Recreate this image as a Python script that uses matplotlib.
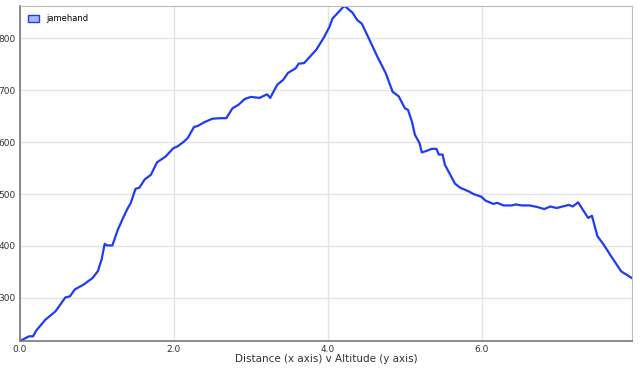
import matplotlib
matplotlib.use("Agg")
import matplotlib.pyplot as plt
from matplotlib.patches import Patch

distance = [0.0, 0.116, 0.17, 0.21, 0.33, 0.46, 0.59, 0.65, 0.71, 0.83, 0.94, 1.01, 1.06, 1.10, 1.13,
            1.20, 1.27, 1.33, 1.39, 1.44, 1.50, 1.55, 1.62, 1.70, 1.78, 1.89, 1.99, 2.05, 2.13, 2.18,
            2.26, 2.31, 2.39, 2.50, 2.60, 2.68, 2.76, 2.84, 2.92, 3.00, 3.11, 3.21, 3.25, 3.34, 3.42,
            3.48, 3.58, 3.62, 3.69, 3.77, 3.85, 3.95, 4.02, 4.06, 4.13, 4.21, 4.25, 4.32, 4.38, 4.44,
            4.53, 4.64, 4.75, 4.84, 4.92, 5.00, 5.04, 5.09, 5.13, 5.19, 5.22, 5.28, 5.35, 5.41, 5.44,
            5.49, 5.52, 5.59, 5.65, 5.72, 5.83, 5.89, 5.99, 6.05, 6.15, 6.20, 6.28, 6.39, 6.44, 6.52,
            6.62, 6.72, 6.81, 6.89, 6.97, 7.05, 7.13, 7.18, 7.25, 7.31, 7.38, 7.43, 7.50, 7.58, 7.68,
            7.81, 7.95]
altitude = [217, 226, 226, 237, 258, 274, 301, 303, 316, 326, 338, 351, 374, 404, 401,
            401, 431, 451, 470, 483, 510, 512, 528, 537, 561, 572, 588, 592, 601, 608,
            629, 631, 638, 645, 646, 646, 665, 672, 683, 687, 685, 692, 685, 710, 720,
            733, 742, 751, 752, 765, 778, 802, 822, 838, 849, 862, 858, 849, 835, 828,
            800, 765, 733, 697, 688, 665, 662, 640, 614, 598, 580, 583, 587, 587, 576,
            576, 556, 537, 520, 512, 505, 500, 495, 487, 481, 483, 478, 478, 480, 478,
            478, 475, 471, 476, 473, 476, 479, 476, 484, 470, 454, 458, 419, 403, 380,
            351, 338]
series_name = "jamehand"
x_ticks = [0, 2, 4, 6]
x_tick_labels = ["0.0", "2.0", "4.0", "6.0"]
y_ticks = [300, 400, 500, 600, 700, 800]

fig = plt.figure(figsize=(6.4, 3.71), dpi=100)
ax = fig.add_axes([20/640, 30/371, 612/640, 335/371])

line_color = "#1e3cf0"
ax.plot(distance, altitude, color=line_color, linewidth=1.6, solid_joinstyle="round")

ax.set_xlim(0, 7.95)
ax.set_ylim(217, 862)
ax.set_xticks(x_ticks)
ax.set_xticklabels(x_tick_labels)
ax.set_yticks(y_ticks)
ax.grid(True, color="#e4e4e4", linewidth=1)
ax.set_axisbelow(True)
ax.tick_params(length=0, labelsize=6.5, colors="#333333", pad=3)

for side in ["left", "bottom"]:
    ax.spines[side].set_color("#777777")
    ax.spines[side].set_linewidth(1.2)
for side in ["top", "right"]:
    ax.spines[side].set_color("#bbbbbb")
    ax.spines[side].set_linewidth(0.8)

ax.set_xlabel("Distance (x axis) v Altitude (y axis)", fontsize=7.5, color="#333333", labelpad=0)

handle = Patch(facecolor="#a8b8ff", edgecolor=line_color, linewidth=1)
leg = ax.legend([handle], [series_name], loc="upper left", frameon=False, fontsize=6,
                handlelength=1.3, handleheight=1.0, borderaxespad=0.6, bbox_to_anchor=(0, 1))

fig.savefig("out.png", dpi=100)
